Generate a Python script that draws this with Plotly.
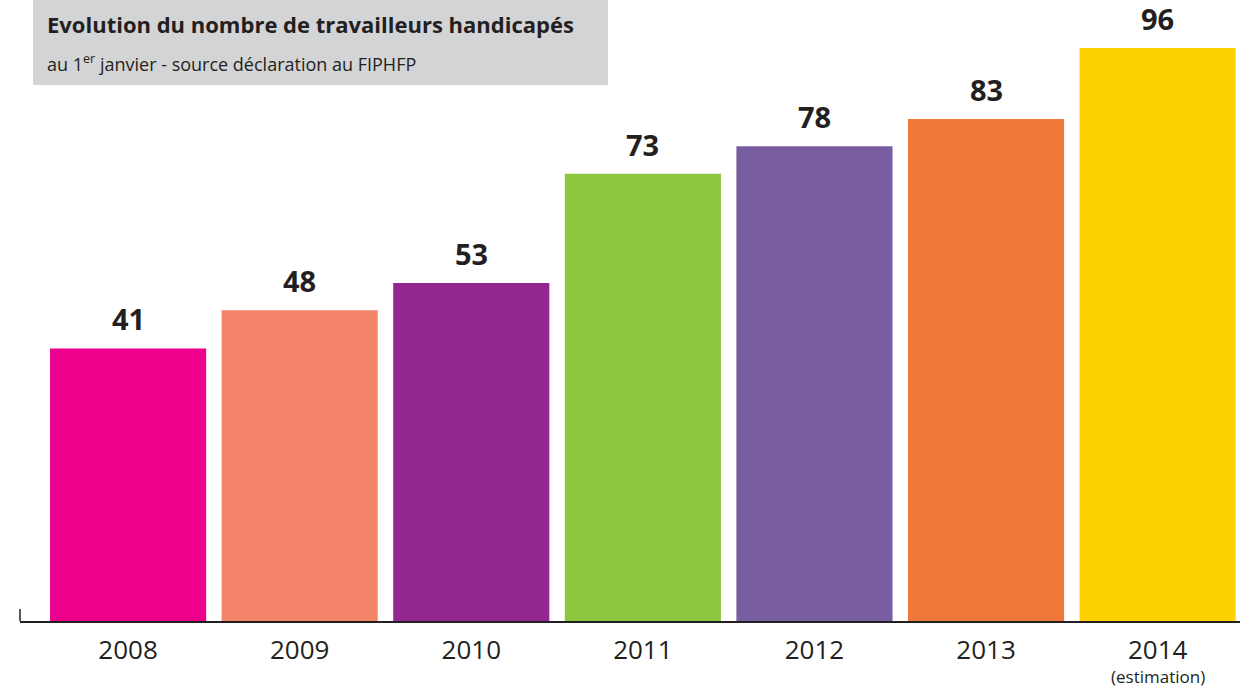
import plotly.graph_objects as go

years = ["2008", "2009", "2010", "2011", "2012", "2013", "2014"]
workers = [41, 48, 53, 73, 78, 83, 96]
bar_colors = ["#ec008c", "#f4846a", "#92278f", "#8dc63f", "#785ea0", "#f0793a", "#fdd200"]
estimate_note = "(estimation)"

# value axis: bars rise from the bottom of the plot area
Y_MIN, Y_MAX = -8.9, 104.8
FONT = "'Open Sans', Lato, sans-serif"
INK = "#231f20"

fig = go.Figure()
fig.add_trace(go.Bar(
    x=years, y=[v - Y_MIN for v in workers], base=Y_MIN,
    marker=dict(color=bar_colors, line=dict(width=0)),
    hoverinfo="skip", showlegend=False,
))

# value labels above each bar
for i, v in enumerate(workers):
    fig.add_annotation(
        x=i, y=v, text=f"<b>{v}</b>", showarrow=False,
        yanchor="middle", yshift=30, height=30, valign="middle",
        font=dict(family=FONT, size=29, color=INK),
    )

# note under the last year
fig.add_annotation(
    x=len(years) - 1, xref="x", yref="paper", y=(621 - 676) / 621,
    yanchor="middle", showarrow=False, text=estimate_note,
    font=dict(family=FONT, size=17, color=INK),
)

# title box
fig.add_shape(type="rect", xref="paper", yref="paper",
              x0=(33 - 20) / 1220, x1=(608 - 20) / 1220,
              y0=(621 - 85) / 621, y1=1.05,
              fillcolor="#d3d4d6", line=dict(width=0), layer="below")
fig.add_annotation(
    xref="paper", yref="paper", x=(45 - 20) / 1220, y=(621 - 24) / 621,
    xanchor="left", yanchor="middle", showarrow=False,
    text="<b>Evolution du nombre de travailleurs handicapés</b>",
    font=dict(family=FONT, size=22, color=INK),
)
fig.add_annotation(
    xref="paper", yref="paper", x=(45 - 20) / 1220, y=(621 - 63) / 621,
    xanchor="left", yanchor="middle", showarrow=False,
    text="au 1<sup>er</sup> janvier - source déclaration au FIPHFP",
    font=dict(family=FONT, size=18, color=INK),
)

# small tick at the left end of the axis
fig.add_shape(type="line", xref="paper", yref="paper",
              x0=0, x1=0, y0=0, y1=12 / 621,
              line=dict(color=INK, width=1.5))

fig.update_layout(
    width=1240, height=690,
    margin=dict(l=20, r=0, t=0, b=69),
    paper_bgcolor="white", plot_bgcolor="white",
    bargap=0.09,
    xaxis=dict(
        type="category", range=[-0.63, 6.48],
        showline=True, linecolor=INK, linewidth=1.5,
        showgrid=False, ticks="", zeroline=False,
        ticklabelstandoff=5,
        tickfont=dict(family=FONT, size=26, color=INK),
    ),
    yaxis=dict(range=[Y_MIN, Y_MAX], visible=False, showgrid=False, zeroline=False),
)

fig.write_html("out.html")
